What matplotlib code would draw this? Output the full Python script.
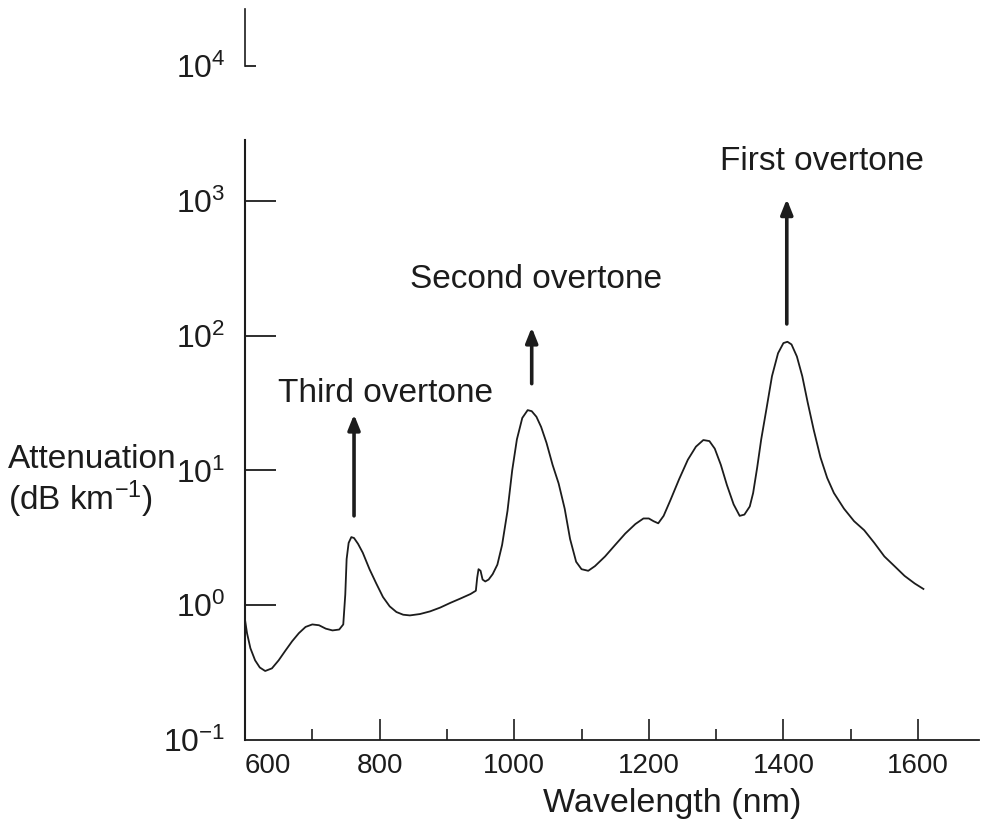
import matplotlib.pyplot as plt
import numpy as np
from matplotlib.ticker import NullLocator

plt.rcParams['font.family'] = ['Liberation Sans', 'DejaVu Sans']
plt.rcParams['mathtext.fontset'] = 'custom'
plt.rcParams['mathtext.rm'] = 'Liberation Sans'
plt.rcParams['mathtext.it'] = 'Liberation Sans:italic'
plt.rcParams['mathtext.bf'] = 'Liberation Sans:bold'

# attenuation curve (nm, dB/km)
wavelength = [600, 603, 608, 615, 622, 630, 640, 650, 660, 670, 680, 690, 700,
              710, 720, 730, 740, 746, 749, 751, 754, 758, 762, 768, 775, 785,
              795, 805, 815, 825, 835, 845, 860, 875, 890, 905, 920, 935, 943,
              945, 947, 950, 953, 957, 962, 968, 975, 982, 990, 997, 1004, 1012,
              1020, 1026, 1033, 1040, 1048, 1057, 1066, 1075, 1083, 1092, 1100,
              1110, 1120, 1135, 1150, 1165, 1180, 1192, 1200, 1207, 1214, 1222,
              1232, 1245, 1258, 1270, 1281, 1290, 1298, 1307, 1316, 1326, 1335,
              1342, 1350, 1355, 1361, 1367, 1375, 1383, 1392, 1400, 1406, 1412,
              1420, 1428, 1436, 1445, 1455, 1465, 1475, 1490, 1505, 1520, 1535,
              1550, 1565, 1580, 1595, 1608]
attenuation = [0.78, 0.62, 0.48, 0.39, 0.345, 0.325, 0.34, 0.39, 0.46, 0.54,
               0.62, 0.69, 0.72, 0.71, 0.67, 0.65, 0.66, 0.72, 1.2, 2.2, 2.9,
               3.2, 3.15, 2.85, 2.45, 1.85, 1.45, 1.15, 0.98, 0.89, 0.85, 0.84,
               0.86, 0.90, 0.96, 1.04, 1.12, 1.21, 1.28, 1.6, 1.85, 1.8, 1.55,
               1.5, 1.55, 1.7, 2.0, 2.8, 5.0, 10, 17, 24.5, 28, 27.5, 25, 21,
               16, 11, 8.0, 5.2, 3.1, 2.1, 1.85, 1.8, 1.95, 2.3, 2.8, 3.4, 4.0,
               4.4, 4.4, 4.2, 4.05, 4.6, 6.0, 8.6, 12, 15, 16.8, 16.5, 14.5, 11,
               7.8, 5.6, 4.6, 4.7, 5.4, 6.8, 10.5, 17, 29, 50, 74, 88, 90, 86, 70,
               50, 32, 20, 12.5, 8.8, 6.8, 5.2, 4.2, 3.6, 2.9, 2.3, 1.95, 1.65,
               1.45, 1.32]

x_ticks = [600, 800, 1000, 1200, 1400, 1600]
x_minor = [700, 900, 1100, 1300, 1500]
y_ticks = [1e-1, 1e0, 1e1, 1e2, 1e3, 1e4]
y_labels = ['$10^{-1}$', '$10^{0}$', '$10^{1}$', '$10^{2}$', '$10^{3}$', '$10^{4}$']

# overtone annotations
names = ['Third overtone', 'Second overtone', 'First overtone']
arrow_x = [762, 1026, 1405]
arrow_from = [4.6, 44, 122]
arrow_to = [26, 115, 1030]
name_x = [809, 1032, 1457]
name_y = [37, 262, 1960]

ink = '#1c1c1c'

fig = plt.figure(figsize=(9.99, 8.22), dpi=100)
ax = fig.add_axes([245 / 999, 1 - 740 / 822, (978.6 - 245) / 999, 5.42 * 134.8 / 822])
ax.set_yscale('log')
ax.set_xlim(600, 1690)
ax.set_ylim(0.1, 10 ** 4.42)

ax.plot(wavelength, attenuation, color=ink, lw=1.3)

for i in range(len(names)):
    ax.annotate('', xy=(arrow_x[i], arrow_to[i]), xytext=(arrow_x[i], arrow_from[i]),
                arrowprops=dict(arrowstyle='-|>,head_length=0.45,head_width=0.18',
                                lw=2.6, color=ink, mutation_scale=20,
                                shrinkA=0, shrinkB=0))
    ax.text(name_x[i], name_y[i], names[i], fontsize=24, color=ink,
            ha='center', va='center')

# axes: only bottom spine, left one drawn with a break near the top
for side in ['top', 'right', 'left']:
    ax.spines[side].set_visible(False)
ax.spines['bottom'].set_color(ink)
ax.spines['bottom'].set_linewidth(1.3)
ax.plot([600, 600], [0.1, 10 ** 3.45], color=ink, lw=1.5, clip_on=False)
ax.plot([600, 600], [10 ** 4.0, 10 ** 4.42], color=ink, lw=1.2, clip_on=False)

ax.set_xticks(x_ticks)
ax.set_xticks(x_minor, minor=True)
ax.tick_params(axis='x', which='major', direction='in', length=15, width=1.2,
               color=ink, labelsize=20, labelcolor=ink, pad=9)
ax.tick_params(axis='x', which='minor', direction='in', length=8, width=1.2,
               color=ink)
ax.get_xticklabels()[0].set_horizontalalignment('left')

ax.set_yticks(y_ticks)
ax.set_yticklabels(y_labels)
ax.yaxis.set_minor_locator(NullLocator())
ax.tick_params(axis='y', which='major', direction='in', length=22, width=1.3,
               color=ink, labelsize=23, labelcolor=ink, pad=14)
yt = ax.yaxis.get_major_ticks()
yt[0].tick1line.set_visible(False)
yt[-1].tick1line.set_markersize(8)

ax.set_xlabel('Wavelength (nm)', fontsize=24.5, color=ink)
ax.xaxis.set_label_coords(0.582, -0.066)

fig.text(8 / 999, 1 - 482 / 822, 'Attenuation\n(dB km$^{-1}$)', fontsize=24,
         color=ink, ha='left', va='center', linespacing=1.1)

fig.savefig('out.png', dpi=100, facecolor='white')
